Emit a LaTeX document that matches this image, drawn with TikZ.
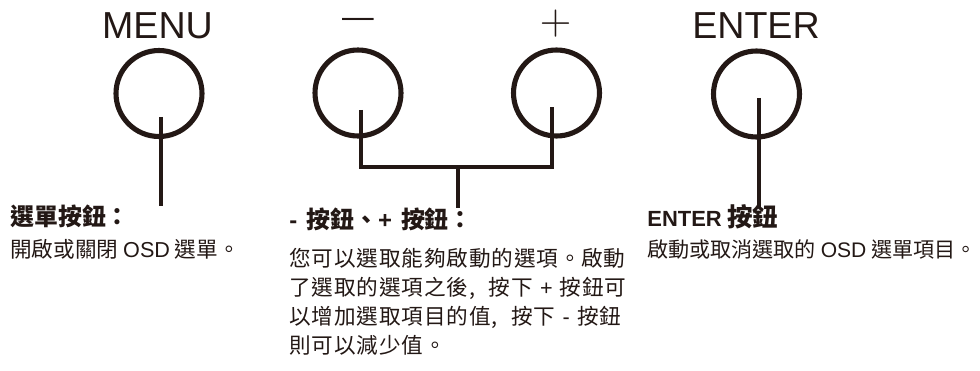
\documentclass[tikz,border=0pt]{standalone}
\usepackage{fontspec}
\setmainfont{Liberation Sans}
\newfontfamily\cjk{Noto Sans CJK TC}
\newfontfamily\cjkwide[LetterSpace=4]{Noto Sans CJK TC}
\IfFontExistsTF{Noto Sans CJK TC Black}
	{\newfontfamily\cjkheavy{Noto Sans CJK TC Black}}
	{\newfontfamily\cjkheavy[FakeBold=1.2]{Noto Sans CJK TC Bold}}
\usetikzlibrary{positioning}
\definecolor{ink}{HTML}{231815}
\newcommand\lat[2][12.3]{{\rmfamily\fontsize{#1}{16.44}\selectfont #2}}

\begin{document}
\begin{tikzpicture}[x=0.02cm,y=-0.02cm,
		btn/.style={circle,draw=ink,line width=2.9pt,minimum size=1.72cm,inner sep=0pt},
		key/.style={font=\fontsize{21.4}{24}\selectfont,text=ink,inner sep=0pt},
		wire/.style={draw=ink,line width=1.9pt},
		head/.style={anchor=base west,inner sep=0pt,font=\cjkheavy\fontsize{13.6}{16}\selectfont,text=ink},
		body/.style={anchor=base west,inner sep=0pt,font=\cjk\fontsize{12.3}{16.44}\selectfont,text=ink}
		]
		\useasboundingbox (0,0) rectangle (980,371);
		
		% key labels
		\node[key] (menulab) at (157.5,25.5) {MENU};
		\node[key,font=\fontsize{18}{20}\selectfont] (minuslab) at (358,23) {—};
		\node[key,font=\fontsize{23}{25}\selectfont] (pluslab) at (555.5,23.5) {$+$};
		\node[key] (enterlab) at (756,25.5) {ENTER};
		
		% buttons
		\node[btn] (menu) at (159,93.5) {};
		\node[btn] (minus) at (358,93) {};
		\node[btn] (plus) at (556.5,93) {};
		\node[btn] (enter) at (756.5,94) {};
		
		% leads
		\coordinate (menutop) at (161,117);
		\coordinate (menuend) at (161,206);
		\coordinate (mtop) at (361,110);
		\coordinate (ptop) at (552,107);
		\coordinate (join) at (458,167);
		\coordinate (joinend) at (458,208);
		\coordinate (entertop) at (759,98);
		\coordinate (enterend) at (759,207);
		\draw[wire] (menutop) -- (menuend);
		\draw[wire] (mtop) -- (mtop |- join) -- (ptop |- join) -- (ptop);
		\draw[wire] (join) -- (joinend);
		\draw[wire] (entertop) -- (enterend);
		
		% texts
		\node[head] (menuhead) at (10,225.5) {選單按鈕：};
		\node[body] (menutxt) at (10,257) {開啟或關閉 \lat{OSD} 選單。};
		
		\node[head] (pmhead) at (289,228.5) {\lat[13.6]{\bfseries -}\hspace{0.15em} 按鈕、\lat[13.6]{\bfseries +}\hspace{0.15em} 按鈕：};
		\node[body,text width=7.8cm,font=\cjkwide\fontsize{12.3}{16.6}\selectfont] (pmtxt) at (289,266)
		{您可以選取能夠啟動的選項。啟動\\了選取的選項之後,\hspace{0.3em} 按下 \lat{+} 按鈕可\\以增加選取項目的值,\hspace{0.3em} 按下 \lat{-} 按鈕\\則可以減少值。};
		
		\node[head] (enterhead) at (647,227) {\lat[12.5]{\bfseries ENTER} {\fontsize{14.5}{17}\selectfont 按鈕}};
		\node[body,font=\cjk\fontsize{12}{16.44}\selectfont] (entertxt) at (647,257) {啟動或取消選取的 \lat[12]{OSD} 選單項目。};
	\end{tikzpicture}
\end{document}
